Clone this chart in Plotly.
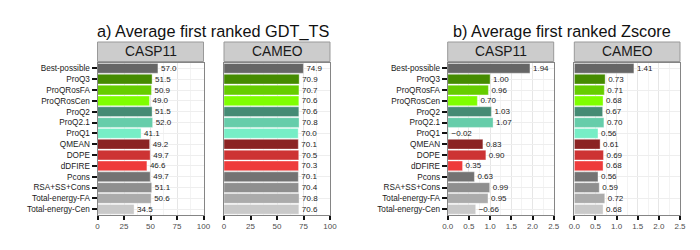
import plotly.graph_objects as go

methods = ["Best-possible", "ProQ3", "ProQRosFA", "ProQRosCen", "ProQ2", "ProQ2.1", "ProQ1",
           "QMEAN", "DOPE", "dDFIRE", "Pcons", "RSA+SS+Cons", "Total-energy-FA", "Total-energy-Cen"]
colors = ["#666666", "#458B00", "#66CD00", "#7FFF00", "#458B74", "#66CDAA", "#76EEC6",
          "#8B2323", "#CD3333", "#EE3B3B", "#737373", "#8F8F8F", "#ABABAB", "#C9C9C9"]

gdt_casp11 = [57.0, 51.5, 50.9, 49.0, 51.5, 52.0, 41.1, 49.2, 49.7, 46.6, 49.7, 51.1, 50.6, 34.5]
gdt_cameo = [74.9, 70.9, 70.7, 70.6, 70.6, 70.8, 70.0, 70.1, 70.5, 70.3, 70.1, 70.4, 70.8, 70.6]
z_casp11 = [1.94, 1.00, 0.96, 0.70, 1.03, 1.07, -0.02, 0.83, 0.90, 0.35, 0.63, 0.99, 0.95, -0.66]
z_cameo = [1.41, 0.73, 0.71, 0.68, 0.67, 0.70, 0.56, 0.61, 0.69, 0.68, 0.56, 0.59, 0.72, 0.68]

gdt_ticks = [0, 25, 50, 75, 100]
z_ticks = [0.0, 0.5, 1.0, 1.5, 2.0, 2.5]

# page body has an 8px margin; lay out in screen pixels and convert
OFF = 8
W, H = 700 - OFF, 250 - OFF
top_px, bot_px = 62.9, 214.7
strip_top, strip_bot = 42, 61.5


def px_x(v):
    return (v - OFF) / W


def px_y(v):
    return 1 - (v - OFF) / H


panels = [
    dict(vals=gdt_casp11, fmt="{:.1f}", x0=97.5, x1=203.5, rng=[0, 100], ticks=gdt_ticks,
         tfmt="{:g}", minor=12.5, header="CASP11", ylab=True),
    dict(vals=gdt_cameo, fmt="{:.1f}", x0=224, x1=330, rng=[0, 100], ticks=gdt_ticks,
         tfmt="{:g}", minor=12.5, header="CAMEO", ylab=False),
    dict(vals=z_casp11, fmt="{:.2f}", x0=447.7, x1=553.7, rng=[0, 2.5], ticks=z_ticks,
         tfmt="{:.1f}", minor=0.25, header="CASP11", ylab=True),
    dict(vals=z_cameo, fmt="{:.2f}", x0=574.3, x1=680, rng=[0, 2.5], ticks=z_ticks,
         tfmt="{:.1f}", minor=0.25, header="CAMEO", ylab=False),
]

fig = go.Figure()
shapes = []
annotations = []
font_family = "Liberation Sans, Arial, sans-serif"

for i, p in enumerate(panels):
    n = "" if i == 0 else str(i + 1)
    xa, ya = "x" + n, "y" + n
    labels = [p["fmt"].format(v).replace("-", "\u2212") for v in p["vals"]]
    fig.add_trace(go.Bar(
        x=[abs(v) for v in p["vals"]], y=methods, orientation="h",
        marker=dict(color=colors, line=dict(color="rgba(255,255,255,0.6)", width=0.6)),
        text=labels, textposition="outside", constraintext="none", cliponaxis=False,
        textfont=dict(size=8, color="#222222", family=font_family),
        xaxis=xa, yaxis=ya, showlegend=False, hoverinfo="skip",
    ))
    dom_x = [px_x(p["x0"]), px_x(p["x1"])]
    fig.layout["xaxis" + n] = dict(
        domain=dom_x, range=p["rng"], anchor=ya, tickvals=p["ticks"],
        ticktext=[p["tfmt"].format(t) for t in p["ticks"]],
        ticks="outside", ticklen=4, tickwidth=1.5, tickcolor="#111111",
        tickfont=dict(size=8, color="#4d4d4d", family=font_family),
        showline=True, linecolor="#858585", linewidth=1, mirror=True,
        showgrid=True, gridcolor="#e6e6e6", gridwidth=0.8,
        minor=dict(dtick=p["minor"], tick0=0, showgrid=True, gridcolor="#f3f3f3", gridwidth=0.5),
        zeroline=False, fixedrange=True, automargin=False,
    )
    fig.layout["yaxis" + n] = dict(
        domain=[px_y(bot_px), px_y(top_px)], anchor=xa, type="category",
        categoryorder="array", categoryarray=methods, range=[13.5, -0.5],
        showticklabels=p["ylab"], ticks="outside" if p["ylab"] else "",
        ticklen=5, tickwidth=1.5, tickcolor="#111111",
        tickfont=dict(size=8.2, color="#1a1a1a", family=font_family),
        showline=True, linecolor="#858585", linewidth=1, mirror=True,
        showgrid=True, gridcolor="#eeeeee", gridwidth=0.8, zeroline=False, fixedrange=True,
        automargin=False,
    )
    shapes.append(dict(type="rect", xref="paper", yref="paper",
                       x0=dom_x[0], x1=dom_x[1], y0=px_y(strip_bot), y1=px_y(strip_top),
                       fillcolor="#cccccc", line=dict(color="#999999", width=1)))
    annotations.append(dict(text=p["header"], xref="paper", yref="paper",
                            x=(dom_x[0] + dom_x[1]) / 2, y=px_y((strip_top + strip_bot) / 2),
                            xanchor="center", yanchor="middle", showarrow=False,
                            font=dict(size=13.8, color="#1a1a1a", family=font_family)))

for title, cx in [("a) Average first ranked GDT_TS", 213), ("b) Average first ranked Zscore", 562)]:
    annotations.append(dict(text=title, xref="paper", yref="paper", x=px_x(cx), y=px_y(31),
                            xanchor="center", yanchor="middle", showarrow=False,
                            font=dict(size=16.3, color="#111111", family=font_family)))

fig.update_layout(
    width=W, height=H, margin=dict(l=0, r=0, t=0, b=0),
    paper_bgcolor="white", plot_bgcolor="white", bargap=0.1,
    shapes=shapes, annotations=annotations,
    font=dict(family=font_family),
)

fig.write_html("out.html")
